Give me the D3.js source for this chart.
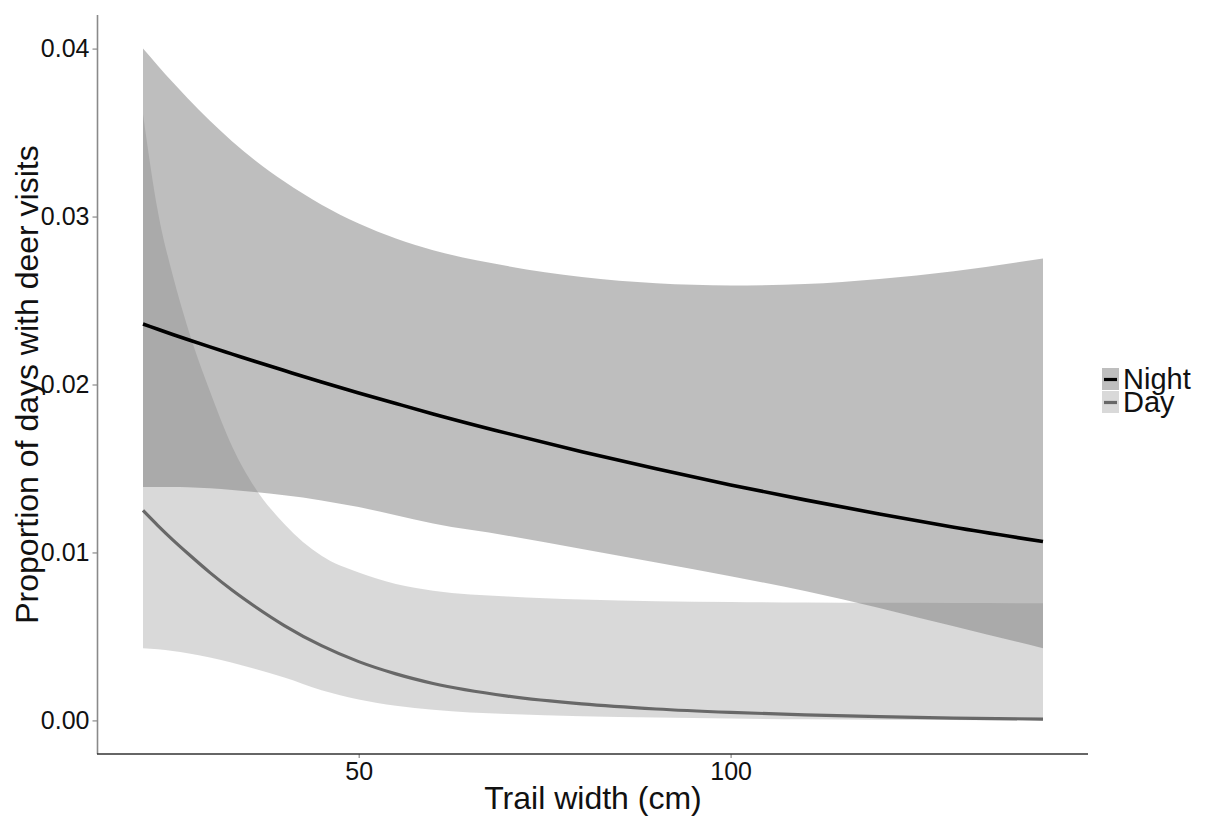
<!DOCTYPE html>
<html>
<head>
<meta charset="utf-8">
<script src="https://cdn.jsdelivr.net/npm/d3@7"></script>
<style>
  html, body { margin: 0; padding: 0; background: #fff; }
  svg { display: block; font-family: "Liberation Sans", Arial, sans-serif; }
</style>
</head>
<body>
<svg id="chart" width="1206" height="816"></svg>
<script>
// ---- data ----
const trailWidth = [21, 23, 25, 27, 30, 33, 36, 40, 45, 50, 55, 60, 70, 80, 90, 100, 110, 120, 130, 142];

const nightFit   = [0.02360, 0.02329, 0.02298, 0.02268, 0.02224, 0.02181, 0.02138, 0.02083, 0.02015, 0.01950, 0.01887, 0.01825, 0.01709, 0.01600, 0.01498, 0.01402, 0.01313, 0.01229, 0.01150, 0.01065];
const nightUpper = [0.04000, 0.03898, 0.03799, 0.03704, 0.03570, 0.03447, 0.03336, 0.03208, 0.03070, 0.02958, 0.02869, 0.02800, 0.02705, 0.02640, 0.02603, 0.02590, 0.02598, 0.02628, 0.02675, 0.02750];
const nightLower = [0.01390, 0.01390, 0.01389, 0.01388, 0.01382, 0.01372, 0.01360, 0.01340, 0.01310, 0.01270, 0.01222, 0.01172, 0.01100, 0.01020, 0.00940, 0.00858, 0.00770, 0.00670, 0.00560, 0.00430];

const dayFit   = [0.01250, 0.01160, 0.01075, 0.00995, 0.00880, 0.00775, 0.00680, 0.00565, 0.00445, 0.00350, 0.00277, 0.00220, 0.00145, 0.00098, 0.00068, 0.00048, 0.00033, 0.00022, 0.00014, 0.00008];
const dayUpper = [0.03610, 0.03030, 0.02650, 0.02340, 0.01960, 0.01630, 0.01390, 0.01170, 0.00980, 0.00880, 0.00812, 0.00772, 0.00738, 0.00720, 0.00710, 0.00705, 0.00702, 0.00700, 0.00699, 0.00698];
const dayLower = [0.00430, 0.00424, 0.00414, 0.00400, 0.00375, 0.00344, 0.00308, 0.00255, 0.00180, 0.00125, 0.00088, 0.00064, 0.00038, 0.00025, 0.00017, 0.00011, 0.00007, 0.00004, 0.00002, 0.00000];

const xTicks = [50, 100];
const yTicks = [0.00, 0.01, 0.02, 0.03, 0.04];
const legendLabels = ["Night", "Day"];
const xTitle = "Trail width (cm)";
const yTitle = "Proportion of days with deer visits";

// ---- build ----
const svg = d3.select("#chart");
const panel = { left: 98, right: 1088, top: 15, bottom: 754 };

function padded(ext) { const p = (ext[1] - ext[0]) * 0.05; return [ext[0] - p, ext[1] + p]; }
const xExt = d3.extent(trailWidth);
const yExt = [d3.min([...dayLower, ...dayFit, ...nightLower]), d3.max([...nightUpper, ...dayUpper])];

const x = d3.scaleLinear().domain(padded(xExt)).range([panel.left, panel.right]);
const y = d3.scaleLinear().domain(padded(yExt)).range([panel.bottom, panel.top]);

function rows(fit, lo, hi) {
  return trailWidth.map((t, i) => ({ t, fit: fit[i], lo: lo[i], hi: hi[i] }));
}
const series = [
  { name: "Day",   data: rows(dayFit, dayLower, dayUpper),       line: "#686868", lw: 3.2 },
  { name: "Night", data: rows(nightFit, nightLower, nightUpper), line: "#000000", lw: 3.6 }
];
const ribbonFill = { Day: { c: "#767676", o: 0.277 }, Night: { c: "#767676", o: 0.474 } };

const curve = d3.curveMonotoneX;
const area = d3.area().x(d => x(d.t)).y0(d => y(d.lo)).y1(d => y(d.hi)).curve(curve);
const line = d3.line().x(d => x(d.t)).y(d => y(d.fit)).curve(curve);

const g = svg.append("g");
series.forEach(s => {
  g.append("path").datum(s.data).attr("d", area)
    .attr("fill", ribbonFill[s.name].c).attr("fill-opacity", ribbonFill[s.name].o);
});
series.forEach(s => {
  g.append("path").datum(s.data).attr("d", line)
    .attr("fill", "none").attr("stroke", s.line).attr("stroke-width", s.lw)
    .attr("stroke-linejoin", "round");
});

// axes
const yAxis = d3.axisLeft(y).tickValues(yTicks).tickFormat(d3.format(".2f")).tickSize(5).tickPadding(3);
const yg = svg.append("g").attr("transform", `translate(${panel.left - 0.5},0)`).call(yAxis);
yg.select(".domain").remove();
yg.selectAll(".tick line").attr("stroke", "#8a8a8a").attr("stroke-width", 1.2);
yg.selectAll(".tick text").attr("font-size", 25).attr("fill", "#111").attr("font-family", "Liberation Sans, Arial, sans-serif");
svg.append("line").attr("x1", panel.left - 0.5).attr("x2", panel.left - 0.5)
  .attr("y1", panel.top).attr("y2", panel.bottom).attr("stroke", "#8a8a8a").attr("stroke-width", 1.6);

const xAxis = d3.axisBottom(x).tickValues(xTicks).tickFormat(d3.format("d")).tickSize(4).tickPadding(4);
const xg = svg.append("g").attr("transform", `translate(0,${panel.bottom})`).call(xAxis);
xg.select(".domain").remove();
xg.selectAll(".tick line").attr("stroke", "#8a8a8a").attr("stroke-width", 1.2);
xg.selectAll(".tick text").attr("font-size", 25).attr("fill", "#111").attr("font-family", "Liberation Sans, Arial, sans-serif");
svg.append("line").attr("x1", panel.left - 1).attr("x2", panel.right)
  .attr("y1", panel.bottom).attr("y2", panel.bottom).attr("stroke", "#333").attr("stroke-width", 1.6);

// titles
svg.append("text").attr("x", (panel.left + panel.right) / 2).attr("y", 809)
  .attr("text-anchor", "middle").attr("font-size", 32).attr("fill", "#111").text(xTitle);
svg.append("text").attr("transform", `translate(38,${(panel.top + panel.bottom) / 2}) rotate(-90)`)
  .attr("text-anchor", "middle").attr("font-size", 32).attr("fill", "#111").text(yTitle);

// legend
const legendKeys = [
  { label: legendLabels[0], fill: ribbonFill.Night, line: "#000000" },
  { label: legendLabels[1], fill: ribbonFill.Day, line: "#686868" }
];
const lg = svg.append("g").attr("transform", "translate(1102,368)");
legendKeys.forEach((k, i) => {
  const row = lg.append("g").attr("transform", `translate(0,${i * 23})`);
  row.append("rect").attr("width", 17).attr("height", 22).attr("fill", k.fill.c).attr("fill-opacity", k.fill.o);
  row.append("line").attr("x1", 2).attr("x2", 15).attr("y1", 11.5).attr("y2", 11.5)
    .attr("stroke", k.line).attr("stroke-width", 3.2);
  row.append("text").attr("x", 21).attr("y", 21).attr("font-size", 29).attr("fill", "#111").text(k.label);
});
</script>
</body>
</html>
